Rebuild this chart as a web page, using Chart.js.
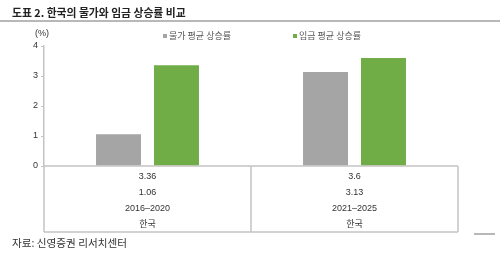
<!DOCTYPE html>
<html><head><meta charset="utf-8">
<script src="https://cdn.jsdelivr.net/npm/chart.js@4.4.1/dist/chart.umd.min.js"></script>
<style>html,body{margin:0;padding:0;background:#fff}#wrap{width:500px;height:256px;position:relative}</style>
</head><body><div id="wrap"><canvas id="c" width="500" height="256"></canvas></div>
<script>
const title = '도표 2. 한국의 물가와 임금 상승률 비교';
const source = '자료: 신영증권 리서치센터';
const unit = '(%)';
const periods = ['2016–2020', '2021–2025'];
const countries = ['한국', '한국'];
const seriesNames = ['물가 평균 상승률', '임금 평균 상승률'];
const priceGrowth = [1.06, 3.13];
const wageGrowth = [3.36, 3.6];
const yTicks = [0, 1, 2, 3, 4];
const colors = ['#a5a5a5', '#70ad47'];

const labels = periods.map((p, i) => [String(wageGrowth[i]), String(priceGrowth[i]), p, countries[i]]);
const FONT = '"Liberation Sans", "Noto Sans CJK KR", sans-serif';
const KFONT = '"Noto Sans CJK KR", sans-serif';

const deco = {
  id: 'deco',
  afterDraw(chart) {
    const ctx = chart.ctx, a = chart.chartArea;
    ctx.save();
    // title
    ctx.fillStyle = '#222';
    ctx.font = 'bold 10.8px ' + KFONT;
    ctx.textBaseline = 'middle';
    ctx.textAlign = 'left';
    ctx.fillText(title, 12, 13);
    ctx.strokeStyle = '#a0a0a0';
    ctx.lineWidth = 1.5;
    ctx.beginPath(); ctx.moveTo(0, 21); ctx.lineTo(500, 21); ctx.stroke();
    // unit
    ctx.fillStyle = '#333';
    ctx.font = '9px ' + FONT;
    ctx.fillText(unit, 35, 33.5);
    // legend
    const lx = [163, 293];
    ctx.font = '9px ' + KFONT;
    chart.data.datasets.forEach((ds, i) => {
      ctx.fillStyle = ds.backgroundColor;
      ctx.fillRect(lx[i], 34, 4, 4);
      ctx.fillStyle = '#555';
      ctx.fillText(ds.label, lx[i] + 6, 36);
    });
    // table lines
    const bottom = 232;
    ctx.strokeStyle = '#c4c4c4';
    ctx.lineWidth = 1.5;
    ctx.beginPath();
    ctx.moveTo(a.left, a.bottom); ctx.lineTo(a.right, a.bottom);
    ctx.moveTo(a.left, bottom); ctx.lineTo(a.right, bottom);
    const n = chart.data.labels.length;
    for (let i = 0; i <= n; i++) {
      const x = a.left + (a.right - a.left) * i / n;
      ctx.moveTo(x, a.bottom); ctx.lineTo(x, bottom);
    }
    ctx.stroke();
    ctx.strokeStyle = '#a0a0a0';
    ctx.beginPath(); ctx.moveTo(474, 234); ctx.lineTo(495, 234); ctx.stroke();
    // source
    ctx.fillStyle = '#333';
    ctx.font = '10.6px ' + KFONT;
    ctx.fillText(source, 12, 243);
    ctx.restore();
  }
};

new Chart(document.getElementById('c'), {
  type: 'bar',
  data: {
    labels: labels,
    datasets: [
      { label: seriesNames[0], data: priceGrowth, backgroundColor: colors[0] },
      { label: seriesNames[1], data: wageGrowth, backgroundColor: colors[1] }
    ]
  },
  options: {
    responsive: false,
    animation: false,
    events: [],
    layout: { padding: { top: 46, right: 42, left: 0, bottom: 0 } },
    categoryPercentage: 0.56,
    barPercentage: 0.776,
    plugins: { legend: { display: false }, title: { display: false }, tooltip: { enabled: false } },
    scales: {
      x: {
        grid: { display: false, drawTicks: false },
        border: { display: false },
        ticks: { padding: 3, color: '#333', font: { size: 9, family: FONT, lineHeight: 16 / 9 }, maxRotation: 0, autoSkip: false },
        afterFit(s) { s.height = 90; }
      },
      y: {
        min: 0, max: 4,
        afterBuildTicks(s) { s.ticks = yTicks.map(v => ({ value: v })); },
        grid: { drawOnChartArea: false, drawTicks: true, tickLength: 3, color: '#c4c4c4', lineWidth: 1 },
        border: { display: true, color: '#c4c4c4', width: 1.5 },
        ticks: { padding: 3, color: '#333', font: { size: 9, family: FONT } },
        afterFit(s) { s.width = 44; }
      }
    }
  },
  plugins: [deco]
});
</script></body></html>
